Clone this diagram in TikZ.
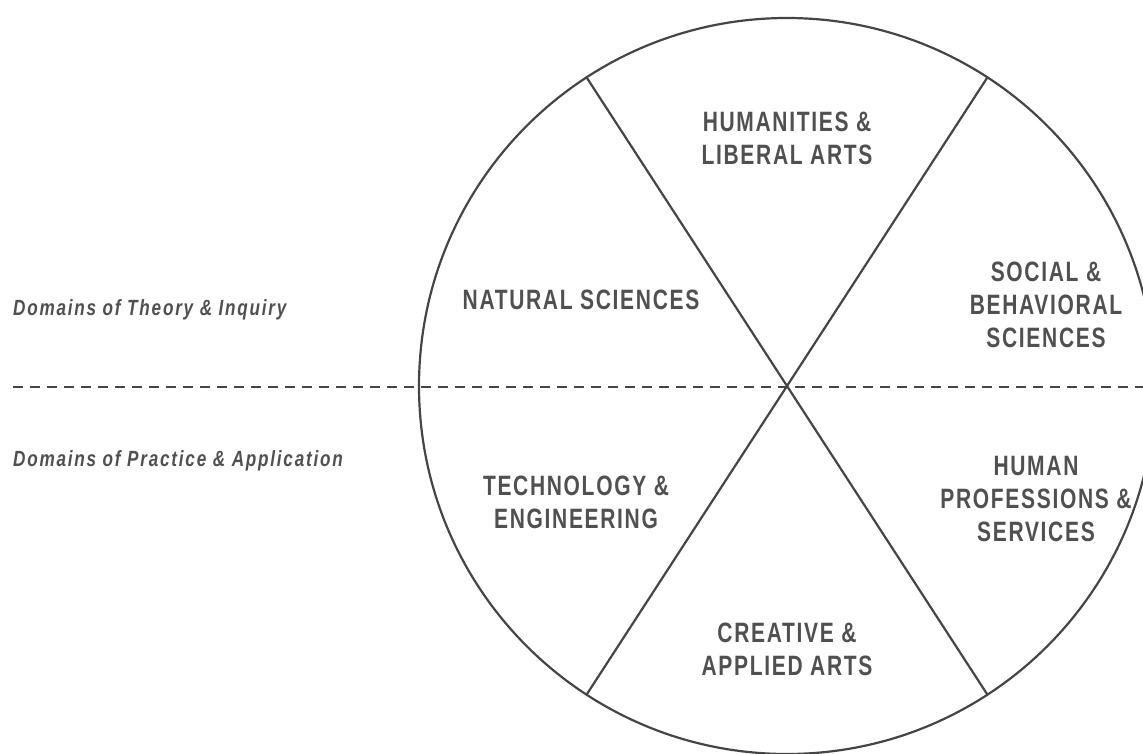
\documentclass[tikz,border=0pt]{standalone}
\usepackage{fontspec}
\usetikzlibrary{calc}
\newfontfamily\labfont[FakeStretch=0.75,LetterSpace=6]{Liberation Sans Bold}
\newfontfamily\sidefont[FakeStretch=0.78,LetterSpace=8]{Liberation Sans Bold Italic}
\definecolor{ink}{HTML}{454545}
\definecolor{txt}{HTML}{505050}
\begin{document}
\begin{tikzpicture}[x=1pt,y=-1pt,
  fieldlabel/.style={text=txt,align=center,font=\labfont\fontsize{28}{33}\selectfont,inner sep=0pt},
  sidelabel/.style={text=txt,anchor=base west,font=\sidefont\fontsize{22}{24}\selectfont,inner sep=0pt},
  rim/.style={draw=ink,line width=2.2pt},
  divider/.style={draw=ink,line width=2.2pt,dash pattern=on 10pt off 7pt}]
\useasboundingbox (0,0) rectangle (1143,753);
\clip (0,0) rectangle (1143,753);
\coordinate (O) at (787,386);
\coordinate (TL) at ($(O)+(123:368)$);
\coordinate (TR) at ($(O)+(57:368)$);
\coordinate (BL) at ($(O)+(-123:368)$);
\coordinate (BR) at ($(O)+(-57:368)$);
\coordinate (DL) at (13,387);
\coordinate (DR) at (1143,387);
\draw[rim] (O) circle[radius=368pt];
\draw[rim] (TL) -- (BR);
\draw[rim] (TR) -- (BL);
\draw[divider] (DL) -- (DR);
\node[fieldlabel] (hum) at (787,138) {HUMANITIES \&\\LIBERAL ARTS};
\node[fieldlabel] (soc) at (1046,305) {SOCIAL \&\\BEHAVIORAL\\SCIENCES};
\node[fieldlabel] (nat) at (581,300) {NATURAL SCIENCES};
\node[fieldlabel] (tech) at (576,502) {TECHNOLOGY \&\\ENGINEERING};
\node[fieldlabel] (prof) at (1036,499) {HUMAN\\PROFESSIONS \&\\SERVICES};
\node[fieldlabel] (cre) at (787,649) {CREATIVE \&\\APPLIED ARTS};
\node[sidelabel] (theory) at (13,315) {Domains of Theory \& Inquiry};
\node[sidelabel] (practice) at (13,466) {Domains of Practice \& Application};
\end{tikzpicture}
\end{document}
